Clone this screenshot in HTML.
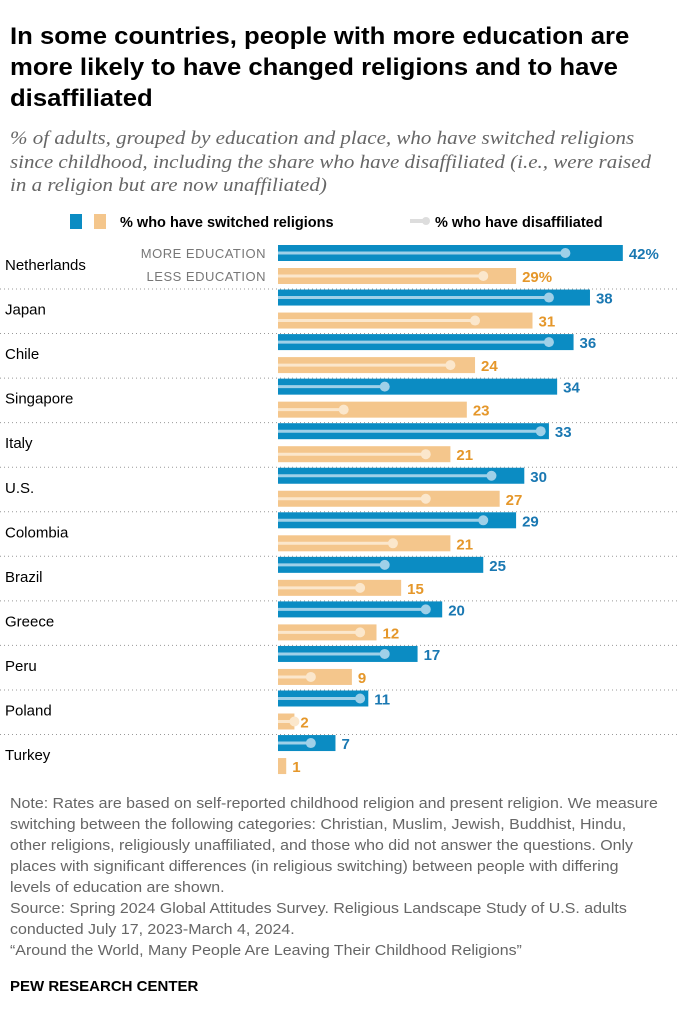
<!DOCTYPE html>
<html><head><meta charset="utf-8"><style>
body{margin:0;width:678px;height:1023px;background:#fff;font-family:"Liberation Sans",sans-serif;color:#000;overflow:hidden;position:relative}
.t{position:absolute;left:10px;top:21px;font-size:24px;font-weight:bold;line-height:31px;white-space:nowrap;transform:scaleX(1.07);transform-origin:0 0}
.s{position:absolute;left:10px;top:127px;font-family:"Liberation Serif",serif;font-style:italic;color:#666;font-size:19px;line-height:23.5px;white-space:nowrap;transform:scaleX(1.105);transform-origin:0 0}
.n{position:absolute;left:10px;top:794px;color:#666;font-size:14.5px;line-height:21px;white-space:nowrap;transform:scaleX(1.1);transform-origin:0 0}
.p{position:absolute;left:10px;top:978px;font-size:15px;font-weight:bold}
</style></head><body>
<div class="t">In some countries, people with more education are<br>more likely to have changed religions and to have<br>disaffiliated</div>
<div class="s">% of adults, grouped by education and place, who have switched religions<br>since childhood, including the share who have disaffiliated (i.e., were raised<br>in a religion but are now unaffiliated)</div>
<svg id="c" width="678" height="1023" style="position:absolute;left:0;top:0"></svg>
<div class="n">Note: Rates are based on self-reported childhood religion and present religion. We measure<br>switching between the following categories: Christian, Muslim, Jewish, Buddhist, Hindu,<br>other religions, religiously unaffiliated, and those who did not answer the questions. Only<br>places with significant differences (in religious switching) between people with differing<br>levels of education are shown.<br>Source: Spring 2024 Global Attitudes Survey. Religious Landscape Study of U.S. adults<br>conducted July 17, 2023-March 4, 2024.<br>“Around the World, Many People Are Leaving Their Childhood Religions”</div>
<div class="p">PEW RESEARCH CENTER</div>
<script>
const countries=["Netherlands","Japan","Chile","Singapore","Italy","U.S.","Colombia","Brazil","Greece","Peru","Poland","Turkey"];
const switchedMore=[42,38,36,34,33,30,29,25,20,17,11,7];
const switchedLess=[29,31,24,23,21,27,21,15,12,9,2,1];
const disaffMore=[35,33,33,13,32,26,25,13,18,13,10,4];
const disaffLess=[25,24,21,8,18,18,14,10,10,4,2,null];
const svg=document.getElementById('c');const NS='http://www.w3.org/2000/svg';
const x0=278,k=8.21;const X=v=>x0+v*k;const Y=i=>245+i*44.55;
function el(t,a,txt){const e=document.createElementNS(NS,t);for(const q in a)e.setAttribute(q,a[q]);if(txt!=null)e.textContent=txt;svg.appendChild(e);return e;}
let g;
g=el('rect',{x:70,y:214,width:12,height:15,fill:'#0b8cc3'});
g=el('rect',{x:94,y:214,width:12,height:15,fill:'#f4c68c'});
g=el('text',{x:120,y:227,'font-size':14.5,'font-weight':'bold'},'% who have switched religions');
g=el('line',{x1:410,y1:221,x2:424,y2:221,stroke:'#ddd','stroke-width':4});
g=el('circle',{cx:426,cy:221,r:4,fill:'#ddd'});
g=el('text',{x:435,y:227,'font-size':14.5,'font-weight':'bold'},'% who have disaffiliated');
g=el('text',{x:266,y:258,'font-size':13,fill:'#777','text-anchor':'end','letter-spacing':'0.5'},'MORE EDUCATION');
g=el('text',{x:266,y:281,'font-size':13,fill:'#777','text-anchor':'end','letter-spacing':'0.5'},'LESS EDUCATION');
countries.forEach((c,i)=>{
 const y=Y(i);
 g=el('text',{x:5,y:y+25,'font-size':15},c);
 [[switchedMore[i],disaffMore[i],y,'#0b8cc3','#9fd0e8','#1a78b2'],[switchedLess[i],disaffLess[i],y+23,'#f4c68c','#fbe7cc','#e5972a']].forEach((r,j)=>{
  const [v,d,yy,col,lc,tc]=r;
  g=el('rect',{x:x0,y:yy,width:v*k,height:16,fill:col});
  if(d!=null){
   g=el('line',{x1:x0,y1:yy+8,x2:X(d),y2:yy+8,stroke:lc,'stroke-width':3});
   g=el('circle',{cx:X(d),cy:yy+8,r:5,fill:lc});
  }
  g=el('text',{x:X(v)+6,y:yy+14,'font-size':15,'font-weight':'bold',fill:tc},v+(i==0?'%':''));
 });
 if(i<countries.length-1){g=el('line',{x1:0,y1:y+44,x2:678,y2:y+44,stroke:'#999','stroke-width':1,'stroke-dasharray':'1 3'});}
});
</script>
</body></html>
